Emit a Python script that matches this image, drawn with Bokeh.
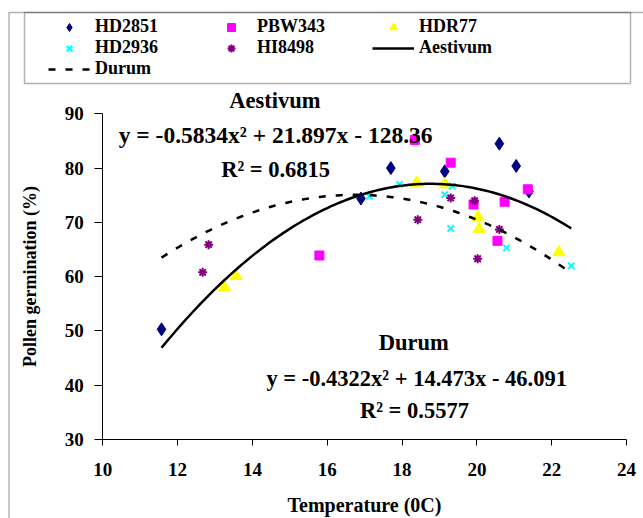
import numpy as np
from bokeh.plotting import figure
from bokeh.models import Legend, LegendItem, Label, BoxAnnotation, FixedTicker, Range1d
from bokeh.embed import file_html
from bokeh.resources import INLINE

# ---- data ----
hd2851_x = [11.57, 16.90, 17.70, 19.14, 20.60, 21.05, 21.39]
hd2851_y = [50.3, 74.4, 80.0, 79.4, 84.5, 80.4, 75.7]
pbw343_x = [15.79, 18.34, 19.30, 21.36, 20.74, 19.91, 20.55]
pbw343_y = [63.9, 85.2, 81.0, 76.1, 73.8, 73.3, 66.6]
hdr77_x = [13.25, 13.56, 18.39, 19.14, 20.03, 20.06, 22.19]
hdr77_y = [58.0, 60.1, 77.3, 77.0, 71.0, 68.8, 64.5]
hd2936_x = [17.13, 17.93, 19.34, 19.14, 19.30, 20.79, 22.52]
hd2936_y = [74.8, 77.0, 76.7, 75.1, 68.9, 65.3, 62.0]
hi8498_x = [12.67, 12.83, 18.42, 19.30, 19.94, 20.60, 20.02]
hi8498_y = [60.8, 65.9, 70.5, 74.5, 74.0, 68.7, 63.3]

aestivum_coef = [-0.5834, 21.897, -128.36]
durum_coef = [-0.4322, 14.473, -46.091]
aestivum_eq = "y = -0.5834x\u00b2 + 21.897x - 128.36"
aestivum_r2 = "R\u00b2 = 0.6815"
durum_eq = "y = -0.4322x\u00b2 + 14.473x - 46.091"
durum_r2 = "R\u00b2 = 0.5577"

x_ticks = [10, 12, 14, 16, 18, 20, 22, 24]
y_ticks = [30, 40, 50, 60, 70, 80, 90]

FONT = "Liberation Serif"
W, H = 643, 518

# the frame covers the whole canvas; axes sit at fixed data locations inside it
p = figure(width=W, height=H, output_backend="svg", toolbar_location=None,
           x_range=Range1d(7.266, 24.453), y_range=Range1d(15.446, 110.88),
           min_border_left=0, min_border_right=0, min_border_top=0, min_border_bottom=0)
p.grid.visible = False
p.outline_line_color = None
p.background_fill_color = "white"
p.border_fill_color = "white"

# scatter series
r1 = p.scatter(hd2851_x, hd2851_y, marker="diamond", size=13, color="#000080")
r2 = p.scatter(pbw343_x, pbw343_y, marker="square", size=9, color="#FF00FF")
r3 = p.scatter(hdr77_x, hdr77_y, marker="triangle", size=12, color="#FFFF00")
r4 = p.scatter(hd2936_x, hd2936_y, marker="x", size=9, line_width=2, color="#00FFFF")
r5 = p.scatter(hi8498_x, hi8498_y, marker="asterisk", size=9, line_width=2, color="#800080")

all_x = hd2851_x + pbw343_x + hdr77_x + hd2936_x + hi8498_x
fx = np.linspace(min(all_x), max(all_x), 120)
ra = p.line(fx, np.polyval(aestivum_coef, fx), line_color="black", line_width=2.5)
rd = p.line(fx, np.polyval(durum_coef, fx), line_color="black", line_width=2.5, line_dash="7 10")

# axes
for ax in (p.xaxis[0], p.yaxis[0]):
    ax.axis_line_color = "black"
    ax.axis_line_width = 1
    ax.major_tick_line_color = "black"
    ax.major_tick_in = 0
    ax.minor_tick_line_color = None
    ax.major_label_text_font = FONT
    ax.major_label_text_font_style = "bold"
    ax.major_label_text_font_size = "19px"
    ax.major_label_text_color = "black"
    ax.axis_label_text_font = FONT
    ax.axis_label_text_font_style = "bold"
    ax.axis_label_text_color = "black"

p.xaxis.axis_label_text_font_size = "20px"
p.yaxis.axis_label_text_font_size = "18px"
p.xaxis.ticker = FixedTicker(ticks=x_ticks)
p.yaxis.ticker = FixedTicker(ticks=y_ticks)
p.xaxis.bounds = (10, 24)
p.yaxis.bounds = (30, 90)
p.xaxis.fixed_location = 30
p.yaxis.fixed_location = 10
p.xaxis.major_tick_out = 6
p.yaxis.major_tick_out = 8
p.xaxis.major_label_standoff = 17
p.yaxis.major_label_standoff = 11
p.xaxis.axis_label = "Temperature (0C)"
p.yaxis.axis_label = "Pollen germination (%)"
p.xaxis.axis_label_standoff = 15
p.yaxis.axis_label_standoff = 22

# equation labels
def lab(x, y, t, size="22.5px"):
    p.add_layout(Label(x=x, y=y, text=t, text_align="center", text_baseline="middle",
                       text_font=FONT, text_font_style="bold", text_font_size=size,
                       text_color="black"))

lab(14.60, 92.45, "Aestivum")
lab(14.62, 86.10, aestivum_eq, "23.5px")
lab(14.62, 79.74, aestivum_r2)
lab(18.31, 47.87, "Durum")
lab(18.39, 41.24, durum_eq)
lab(18.33, 35.34, durum_r2)

# outer frame and legend box (screen units, origin bottom-left of canvas frame)
p.add_layout(BoxAnnotation(left=8.5, right=W + 60, top=H - 12, bottom=-60,
                           left_units="screen", right_units="screen", top_units="screen", bottom_units="screen",
                           fill_alpha=0, line_color="black", line_width=1.5))
p.add_layout(BoxAnnotation(left=24, right=630, top=H - 12, bottom=H - 83,
                           left_units="screen", right_units="screen", top_units="screen", bottom_units="screen",
                           fill_alpha=0, line_color="black", line_width=1.5))

items = [
    LegendItem(label="HD2851", renderers=[r1]),
    LegendItem(label="PBW343", renderers=[r2]),
    LegendItem(label="HDR77", renderers=[r3]),
    LegendItem(label="HD2936", renderers=[r4]),
    LegendItem(label="HI8498", renderers=[r5]),
    LegendItem(label="Aestivum", renderers=[ra]),
    LegendItem(label="Durum", renderers=[rd]),
]
legend = Legend(items=items, location=(48, H - 79), orientation="horizontal", ncols=3,
                glyph_width=42, glyph_height=20, label_height=20, label_width=115,
                label_standoff=5, spacing=0, padding=0, margin=0,
                border_line_color=None, background_fill_alpha=0,
                label_text_font=FONT, label_text_font_style="bold",
                label_text_font_size="18px", label_text_color="black")
p.add_layout(legend, "center")

open("out.html", "w").write(file_html(p, INLINE))
